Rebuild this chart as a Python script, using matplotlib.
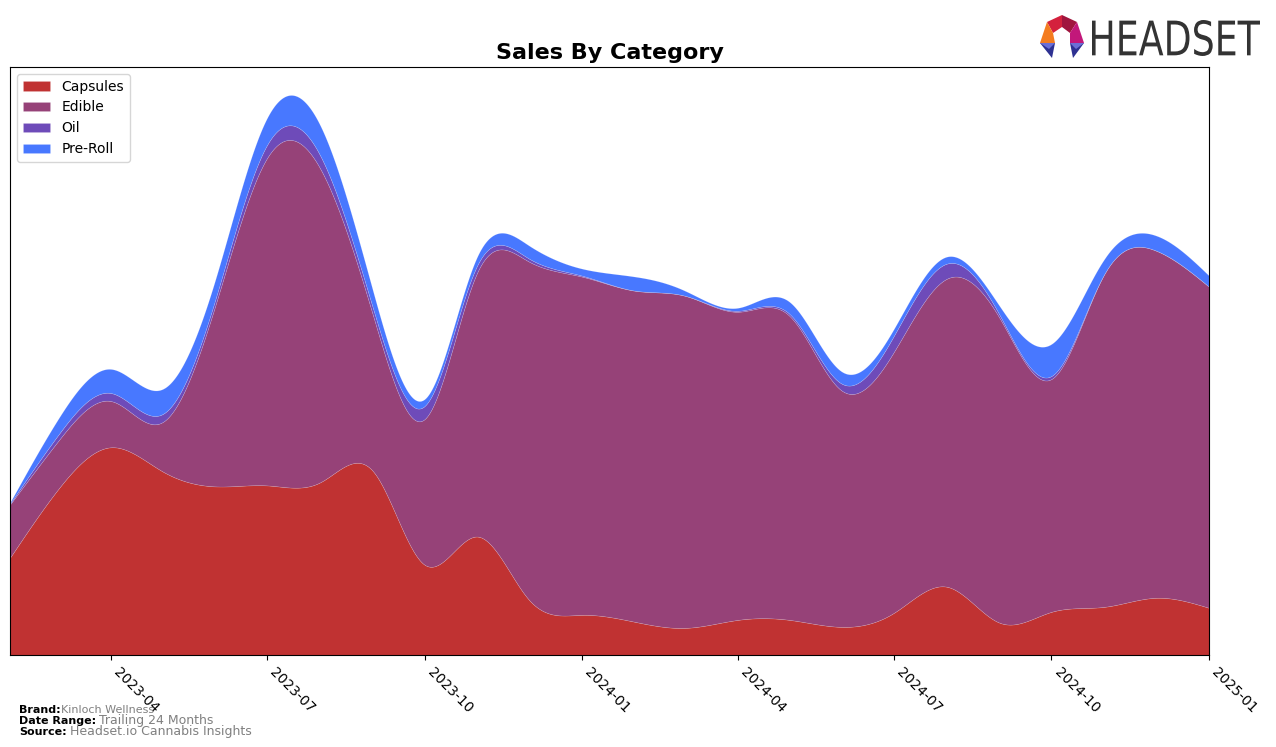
import numpy as np
import matplotlib
matplotlib.use("Agg")
import matplotlib.pyplot as plt
import matplotlib.dates as mdates
from matplotlib.patches import Polygon, PathPatch
from matplotlib.textpath import TextPath
from matplotlib.font_manager import FontProperties
from matplotlib.transforms import Affine2D
import datetime as dt

# monthly values, Feb 2023 .. Jan 2025
months = []
for i in range(24):
    m = 2 + i
    months.append(dt.date(2023 + (m - 1) // 12, (m - 1) % 12 + 1, 1))

capsules = [97, 165, 207, 183, 168, 169, 172, 183, 90, 118, 55, 40,
            33, 27, 35, 35, 28, 42, 68, 32, 43, 48, 57, 47]
edible = [53, 48, 46, 49, 181, 326, 313, 155, 145, 264, 337, 337,
          330, 331, 307, 303, 235, 260, 307, 303, 232, 332, 346, 320]
oil = [1, 6, 8, 8, 6, 13, 13, 7, 13, 7, 3, 1,
       0, 0, 1, 2, 7, 16, 15, 3, 3, 0, 0, 0]
preroll = [1, 16, 24, 25, 20, 27, 30, 17, 7, 9, 13, 7,
           14, 5, 3, 12, 12, 7, 7, 9, 32, 15, 15, 11]

labels = ["Capsules", "Edible", "Oil", "Pre-Roll"]
colors = ["#c03232", "#964278", "#6e4bb9", "#4878ff"]


def spline(x, y, xs):
    # natural cubic spline, only used to draw smooth edges
    x = np.asarray(x, float); y = np.asarray(y, float)
    n = len(x); h = np.diff(x)
    A = np.zeros((n, n)); r = np.zeros(n)
    A[0, 0] = 1; A[-1, -1] = 1
    for i in range(1, n - 1):
        A[i, i - 1] = h[i - 1]; A[i, i] = 2 * (h[i - 1] + h[i]); A[i, i + 1] = h[i]
        r[i] = 3 * ((y[i + 1] - y[i]) / h[i] - (y[i] - y[i - 1]) / h[i - 1])
    c = np.linalg.solve(A, r)
    b = (y[1:] - y[:-1]) / h - h * (2 * c[:-1] + c[1:]) / 3
    d = (c[1:] - c[:-1]) / (3 * h)
    k = np.clip(np.searchsorted(x, xs) - 1, 0, n - 2)
    dx = xs - x[k]
    return y[k] + b[k] * dx + c[k] * dx ** 2 + d[k] * dx ** 3


xn = mdates.date2num(months)
xs = np.linspace(xn[0], xn[-1], 800)
series = [np.clip(spline(xn, s, xs), 0, None) for s in (capsules, edible, oil, preroll)]

fig = plt.figure(figsize=(12.76, 7.47), dpi=100)
ax = fig.add_axes([10 / 1276, 92 / 747, 1199 / 1276, 588 / 747])
ax.stackplot(xs, *series, labels=labels, colors=colors,
             edgecolor=(1, 1, 1, 0.2), linewidth=0.4)
ax.set_xlim(xn[0], xn[-1])
ax.set_ylim(0, np.sum(series, axis=0).max() * 1.05)
ax.set_yticks([])
ax.xaxis.set_major_locator(mdates.MonthLocator(bymonth=[1, 4, 7, 10]))
ax.xaxis.set_major_formatter(mdates.DateFormatter("%Y-%m"))
plt.setp(ax.get_xticklabels(), rotation=-45, ha="left", fontsize=10)
ax.set_title("Sales By Category", fontsize=16, fontweight="bold", pad=6)
ax.legend(loc="upper left", fontsize=10)

# footer
fig.text(19 / 1276, 1 - 713 / 747, "Brand:", fontsize=8, fontweight="bold", va="baseline")
fig.text(61 / 1276, 1 - 713 / 747, "Kinloch Wellness", fontsize=8, color="gray", va="baseline")
fig.text(19 / 1276, 1 - 724 / 747, "Date Range:", fontsize=8, fontweight="bold", va="baseline")
fig.text(99 / 1276, 1 - 724 / 747, "Trailing 24 Months", fontsize=9, color="gray", va="baseline")
fig.text(19 / 1276, 1 - 735 / 747, "Source:", fontsize=8, fontweight="bold", va="baseline")
fig.text(70 / 1276, 1 - 735 / 747, "Headset.io Cannabis Insights", fontsize=9, color="gray", va="baseline")

# logo, drawn in pixel coords (y down)
lax = fig.add_axes([0, 0, 1, 1], facecolor="none")
lax.set_xlim(0, 1276); lax.set_ylim(747, 0); lax.axis("off")
tp = TextPath((0, 0), "HEADSET", size=1, prop=FontProperties(family="DejaVu Sans"))
bb = tp.get_extents()
tr = Affine2D().translate(-bb.x0, -bb.y0).scale(168 / bb.width, -36 / bb.height).translate(1092, 56)
lax.add_patch(PathPatch(tr.transform_path(tp), color="#333333", lw=0))
facets = [
    ([(1047, 22), (1062, 15), (1062, 27), (1053, 33)], "#d4213d"),
    ([(1062, 15), (1077, 22), (1070, 33), (1062, 27)], "#a0153e"),
    ([(1077, 22), (1084, 43), (1070, 43), (1070, 33)], "#c2187a"),
    ([(1047, 22), (1053, 33), (1055, 43), (1040, 43)], "#f47c20"),
    ([(1040, 43), (1055, 43), (1052, 58)], "#2e3192"),
    ([(1040, 43), (1055, 43), (1049, 49)], "#6b6fd6"),
    ([(1070, 43), (1084, 43), (1073, 58)], "#2e3192"),
    ([(1070, 43), (1084, 43), (1076, 49)], "#6b6fd6"),
]
for pts, col in facets:
    lax.add_patch(Polygon(pts, closed=True, color=col, lw=0))

fig.savefig("out.png", dpi=100)
